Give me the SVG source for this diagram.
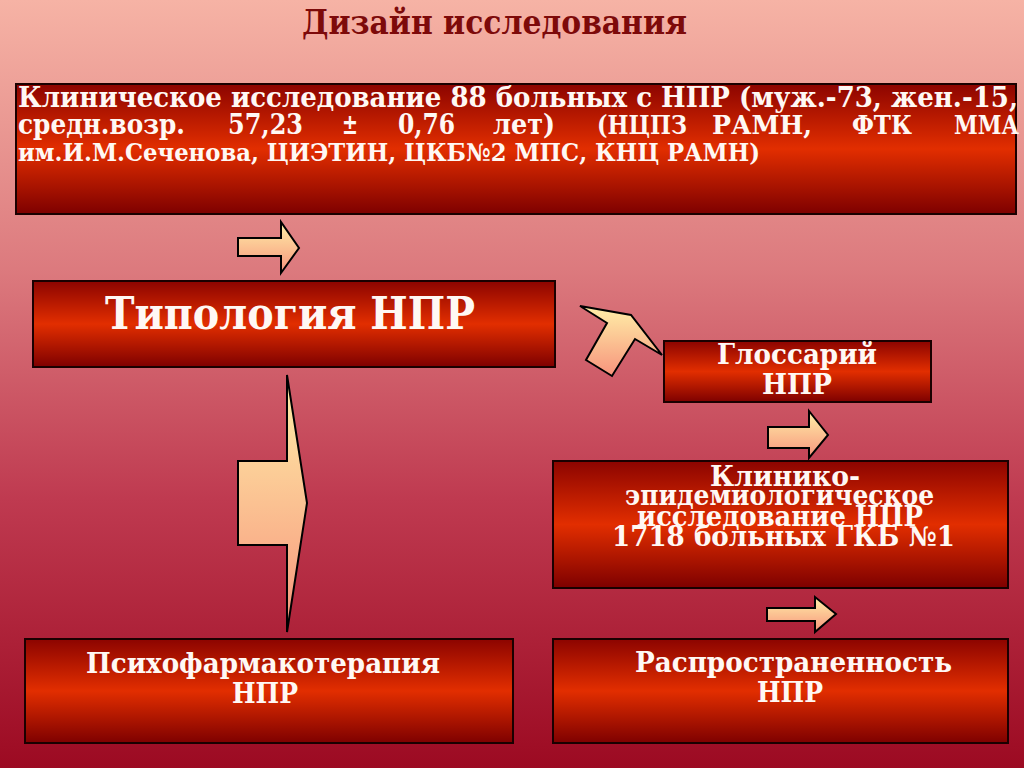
<svg xmlns="http://www.w3.org/2000/svg" width="1024" height="768" viewBox="0 0 1024 768">
<defs>
<linearGradient id="bg" x1="0" y1="0" x2="0" y2="1">
<stop offset="0" stop-color="#f6b3a5"/>
<stop offset="0.35" stop-color="#dc7a7e"/>
<stop offset="0.65" stop-color="#bf3a50"/>
<stop offset="1" stop-color="#9c0a22"/>
</linearGradient>
<linearGradient id="box" x1="0" y1="0" x2="0" y2="1">
<stop offset="0" stop-color="#8c0400"/>
<stop offset="0.5" stop-color="#e22e00"/>
<stop offset="1" stop-color="#7e0000"/>
</linearGradient>
<linearGradient id="arr" x1="0" y1="0" x2="0" y2="1">
<stop offset="0" stop-color="#fff0a8"/>
<stop offset="1" stop-color="#f7937c"/>
</linearGradient>
<style>
.box{fill:url(#box);stroke:#1a0000;stroke-width:2}
.arrow{fill:url(#arr);stroke:#000;stroke-width:2;stroke-linejoin:miter}
.t{font-family:"DejaVu Serif","Liberation Serif",serif;font-weight:bold;fill:#fff8f4}
.ttl{font-family:"DejaVu Serif","Liberation Serif",serif;font-weight:bold;fill:#7d0a0a}
</style>
</defs>
<rect x="0" y="0" width="1024" height="768" fill="url(#bg)"/>
<text class="ttl" x="302" y="34" font-size="34" textLength="385" lengthAdjust="spacingAndGlyphs">Дизайн исследования</text>

<g id="connectors">
<polygon class="arrow" points="238,238 281,238 281,222 299,248 281,273 281,256 238,256"/>
<polygon class="arrow" points="238,461 287,461 287,375 307,503 287,632 287,545 238,545"/>
<polygon class="arrow" points="580,306 631,315 662,355 635,339 612,376 586,360 607,323"/>
<polygon class="arrow" points="768,427 809,427 809,411 828,435 809,458 809,448 768,448"/>
<polygon class="arrow" points="767,608 815,608 815,597 836,614 815,632 815,621 767,621"/>
</g>

<g id="node-clinical-study">
<rect class="box" x="16" y="84" width="1000" height="130"/>
<text class="t" x="18" y="107" font-size="28" textLength="1000" lengthAdjust="spacingAndGlyphs">Клиническое исследование 88 больных с НПР (муж.-73, жен.-15,</text>
<text class="t" x="18" y="134" font-size="28" textLength="167" lengthAdjust="spacingAndGlyphs">средн.возр.</text>
<text class="t" x="228" y="134" font-size="28" textLength="75" lengthAdjust="spacingAndGlyphs">57,23</text>
<text class="t" x="342" y="134" font-size="28" textLength="16" lengthAdjust="spacingAndGlyphs">±</text>
<text class="t" x="398" y="134" font-size="28" textLength="57" lengthAdjust="spacingAndGlyphs">0,76</text>
<text class="t" x="493" y="134" font-size="28" textLength="62" lengthAdjust="spacingAndGlyphs">лет)</text>
<text class="t" x="597" y="134" font-size="26" textLength="90" lengthAdjust="spacingAndGlyphs">(НЦПЗ</text>
<text class="t" x="712" y="134" font-size="26" textLength="100" lengthAdjust="spacingAndGlyphs">РАМН,</text>
<text class="t" x="852" y="134" font-size="26" textLength="60" lengthAdjust="spacingAndGlyphs">ФТК</text>
<text class="t" x="954" y="134" font-size="26" textLength="65" lengthAdjust="spacingAndGlyphs">ММА</text>
<text class="t" x="18" y="161" font-size="24" textLength="742" lengthAdjust="spacingAndGlyphs">им.И.М.Сеченова, ЦИЭТИН, ЦКБ№2 МПС, КНЦ РАМН)</text>
</g>

<g id="node-typology">
<rect class="box" x="33" y="281" width="522" height="86"/>
<text class="t" x="105" y="329" font-size="44" textLength="370" lengthAdjust="spacingAndGlyphs">Типология НПР</text>
</g>

<g id="node-glossary">
<rect class="box" x="664" y="341" width="267" height="61"/>
<text class="t" x="717" y="364" font-size="27" textLength="160" lengthAdjust="spacingAndGlyphs">Глоссарий</text>
<text class="t" x="762" y="394" font-size="27" textLength="70" lengthAdjust="spacingAndGlyphs">НПР</text>
</g>

<g id="node-epidemiology">
<rect class="box" x="553" y="461" width="455" height="127"/>
<text class="t" x="710" y="486" font-size="27" textLength="150" lengthAdjust="spacingAndGlyphs">Клинико-</text>
<text class="t" x="625" y="505" font-size="27" textLength="309" lengthAdjust="spacingAndGlyphs">эпидемиологическое</text>
<text class="t" x="637" y="526" font-size="27" textLength="286" lengthAdjust="spacingAndGlyphs">исследование НПР</text>
<text class="t" x="612" y="546" font-size="27" textLength="343" lengthAdjust="spacingAndGlyphs">1718 больных ГКБ №1</text>
</g>

<g id="node-psychopharmacotherapy">
<rect class="box" x="25" y="639" width="488" height="104"/>
<text class="t" x="86" y="673" font-size="28" textLength="354" lengthAdjust="spacingAndGlyphs">Психофармакотерапия</text>
<text class="t" x="232" y="703" font-size="28" textLength="66" lengthAdjust="spacingAndGlyphs">НПР</text>
</g>

<g id="node-prevalence">
<rect class="box" x="553" y="639" width="455" height="104"/>
<text class="t" x="635" y="672" font-size="28" textLength="317" lengthAdjust="spacingAndGlyphs">Распространенность</text>
<text class="t" x="757" y="702" font-size="28" textLength="66" lengthAdjust="spacingAndGlyphs">НПР</text>
</g>
</svg>
